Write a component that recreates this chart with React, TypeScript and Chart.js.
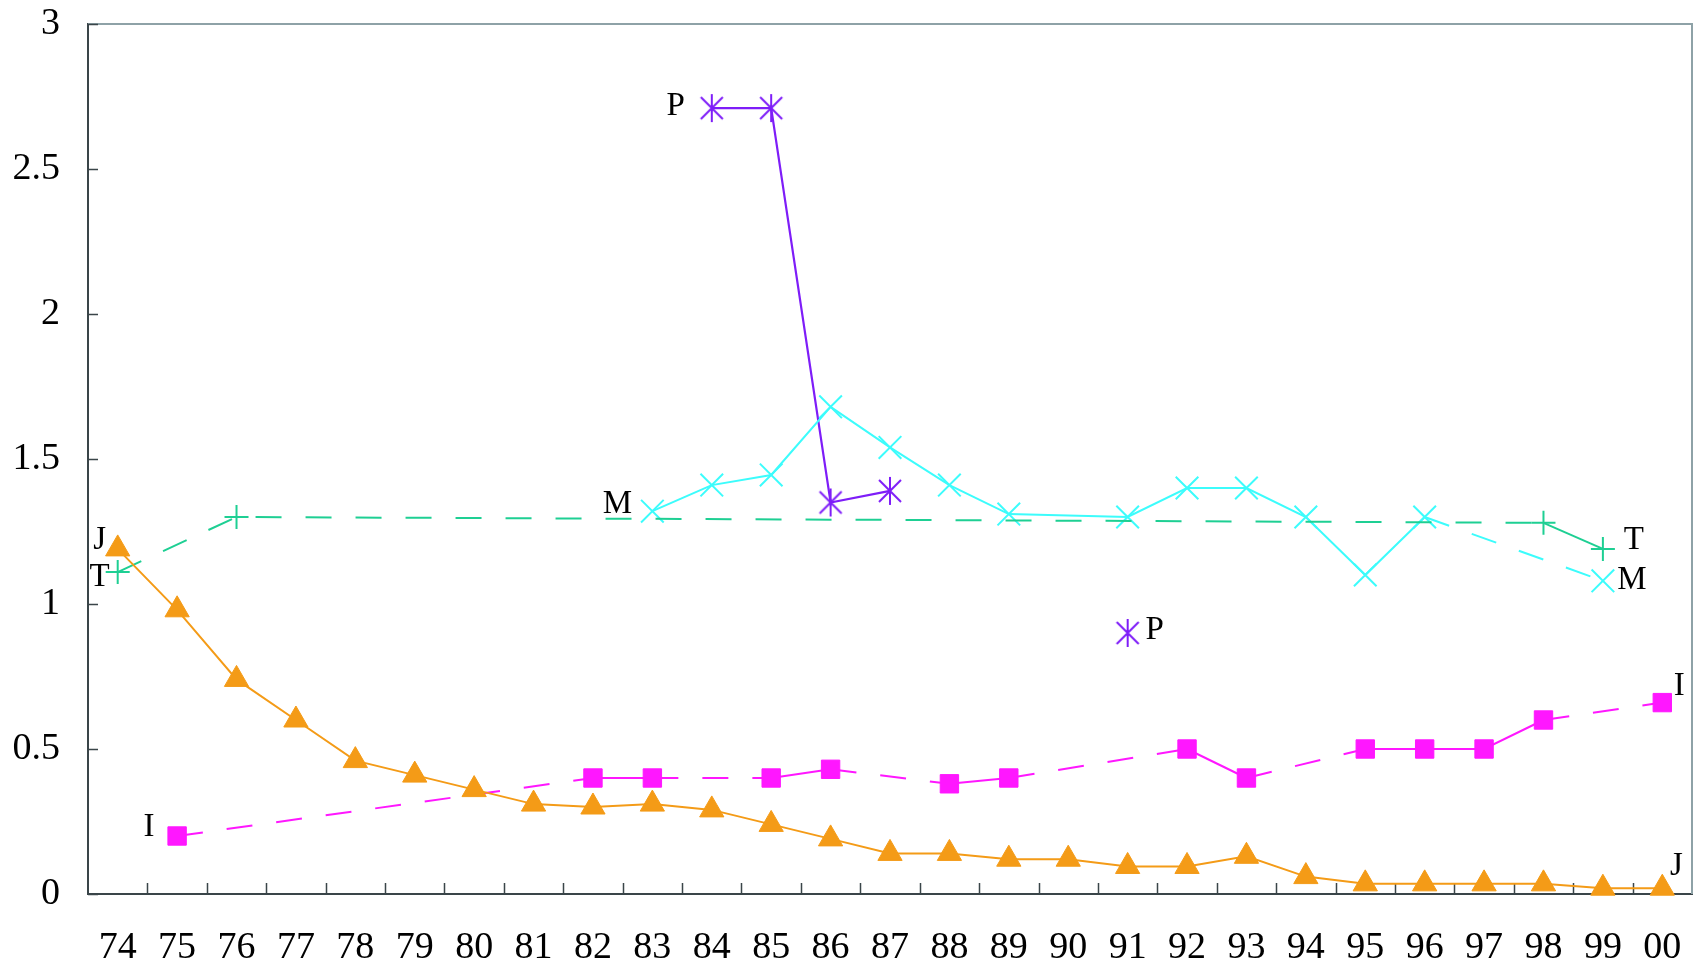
import React, { useEffect, useRef } from 'react';
import { Chart, registerables } from 'chart.js';

Chart.register(...registerables);

// ---------- data ----------
const years = ['74', '75', '76', '77', '78', '79', '80', '81', '82', '83', '84', '85', '86', '87', '88', '89', '90', '91', '92', '93', '94', '95', '96', '97', '98', '99', '00'];

const seriesJ = [1.19, 0.98, 0.74, 0.6, 0.46, 0.41, 0.36, 0.31, 0.3, 0.31, 0.29, 0.24, 0.19, 0.14, 0.14, 0.12, 0.12, 0.095, 0.095, 0.13, 0.06, 0.035, 0.035, 0.035, 0.035, 0.02, 0.02];
const seriesI = [null, 0.2, null, null, null, null, null, null, 0.4, 0.4, null, 0.4, 0.43, null, 0.38, 0.4, null, null, 0.5, 0.4, null, 0.5, 0.5, 0.5, 0.6, null, 0.66];
const seriesT = [1.11, null, 1.3, null, null, null, null, null, null, null, null, null, null, null, null, null, null, null, null, null, null, null, null, null, 1.28, 1.19, null];
const seriesM = [null, null, null, null, null, null, null, null, null, 1.32, 1.41, 1.445, 1.68, 1.54, 1.41, 1.31, null, 1.3, 1.4, 1.4, 1.3, 1.1, 1.3, null, null, 1.08, null];
const seriesP = [null, null, null, null, null, null, null, null, null, null, 2.71, 2.71, 1.35, 1.39, null, null, null, 0.9, null, null, null, null, null, null, null, null, null];

const yTicks = [0, 0.5, 1, 1.5, 2, 2.5, 3];

// gap in M between these years is drawn solid
const mSolidGap = ['89', '91'];

// ---------- styles ----------
const FONT = "'Liberation Serif', 'Times New Roman', serif";
const COL_J = '#F49B17';
const COL_I = '#FF17FF';
const COL_T = '#1ECF93';
const COL_M = '#3CFCFC';
const COL_P = '#7E1DF8';
const DASH = [26, 24];

const seriesLabels = [
  { text: 'J', ds: 0, at: 'first', dx: -18, dy: -9 },
  { text: 'J', ds: 0, at: 'last', dx: 14, dy: -22 },
  { text: 'I', ds: 1, at: 'first', dx: -28, dy: -9 },
  { text: 'I', ds: 1, at: 'last', dx: 17, dy: -16 },
  { text: 'T', ds: 2, at: 'first', dx: -18, dy: 5 },
  { text: 'T', ds: 2, at: 'last', dx: 31, dy: -9 },
  { text: 'M', ds: 3, at: 'first', dx: -35, dy: -7 },
  { text: 'M', ds: 3, at: 'last', dx: 29, dy: 0 },
  { text: 'P', ds: 4, at: 'first', dx: -36, dy: -2 },
  { text: 'P', ds: 4, at: 'last', dx: 27, dy: -3 },
];

function makeAsterisk(color: string) {
  const c = document.createElement('canvas');
  c.width = 26;
  c.height = 30;
  const g = c.getContext('2d')!;
  g.strokeStyle = color;
  g.lineWidth = 2;
  g.beginPath();
  g.moveTo(13, 1);
  g.lineTo(13, 29);
  g.moveTo(2, 4);
  g.lineTo(24, 26);
  g.moveTo(24, 4);
  g.lineTo(2, 26);
  g.stroke();
  return c;
}

const gapDash = (ctx: any) => (ctx.p0.skip || ctx.p1.skip ? DASH : undefined);

const framePlugin = {
  id: 'frame',
  beforeDatasetsDraw(chart: any) {
    const { ctx, chartArea: a, scales } = chart;
    const x = scales.x;
    const y = scales.y;
    ctx.save();
    ctx.strokeStyle = '#8EA2A7';
    ctx.lineWidth = 2;
    ctx.beginPath();
    ctx.moveTo(a.left, a.top);
    ctx.lineTo(a.right, a.top);
    ctx.lineTo(a.right, a.bottom);
    ctx.stroke();
    ctx.strokeStyle = '#3A4549';
    ctx.lineWidth = 1.5;
    ctx.beginPath();
    y.ticks.forEach((t: any) => {
      const py = Math.round(y.getPixelForValue(t.value)) + 0.5;
      ctx.moveTo(a.left, py);
      ctx.lineTo(a.left + 10, py);
    });
    for (let i = 1; i < years.length; i++) {
      const px = Math.round((x.getPixelForValue(i - 1) + x.getPixelForValue(i)) / 2) + 0.5;
      ctx.moveTo(px, a.bottom);
      ctx.lineTo(px, a.bottom - 11);
    }
    ctx.stroke();
    ctx.restore();
  },
};

const labelPlugin = {
  id: 'seriesLabels',
  afterDatasetsDraw(chart: any) {
    const { ctx } = chart;
    ctx.save();
    ctx.fillStyle = '#000';
    ctx.font = `33px ${FONT}`;
    ctx.textAlign = 'center';
    ctx.textBaseline = 'middle';
    seriesLabels.forEach((l) => {
      const meta = chart.getDatasetMeta(l.ds);
      const vals = chart.data.datasets[l.ds].data as (number | null)[];
      let idx = -1;
      if (l.at === 'first') idx = vals.findIndex((v) => v !== null);
      else {
        for (let i = vals.length - 1; i >= 0; i--) if (vals[i] !== null) { idx = i; break; }
      }
      const el = meta.data[idx];
      if (!el) return;
      ctx.fillText(l.text, el.x + l.dx, el.y + l.dy);
    });
    ctx.restore();
  },
};

export default function App() {
  const ref = useRef<HTMLCanvasElement>(null);
  useEffect(() => {
    const canvas = ref.current!;
    const mA = years.indexOf(mSolidGap[0]);
    const mB = years.indexOf(mSolidGap[1]);
    const chart = new Chart(canvas, {
      type: 'line',
      data: {
        labels: years,
        datasets: [
          {
            label: 'J',
            data: seriesJ,
            borderColor: COL_J,
            backgroundColor: COL_J,
            borderWidth: 2,
            pointStyle: 'triangle',
            pointRadius: 14,
            pointBorderWidth: 1,
            clip: false,
          },
          {
            label: 'I',
            data: seriesI,
            borderColor: COL_I,
            backgroundColor: COL_I,
            borderWidth: 2,
            pointStyle: 'rect',
            pointRadius: 13,
            pointBorderWidth: 1,
            spanGaps: true,
            segment: { borderDash: gapDash },
            clip: false,
          },
          {
            label: 'T',
            data: seriesT,
            borderColor: COL_T,
            backgroundColor: COL_T,
            borderWidth: 2,
            pointStyle: 'cross',
            pointRadius: 12,
            pointBorderWidth: 2,
            spanGaps: true,
            segment: { borderDash: gapDash },
            clip: false,
          },
          {
            label: 'M',
            data: seriesM,
            borderColor: COL_M,
            backgroundColor: COL_M,
            borderWidth: 2,
            pointStyle: 'crossRot',
            pointRadius: 16,
            pointBorderWidth: 2,
            spanGaps: true,
            segment: {
              borderDash: (ctx: any) => {
                if (ctx.p0DataIndex >= mA && ctx.p1DataIndex <= mB) return undefined;
                return gapDash(ctx);
              },
            },
            clip: false,
          },
          {
            label: 'P',
            data: seriesP,
            borderColor: COL_P,
            backgroundColor: COL_P,
            borderWidth: 2.2,
            pointStyle: makeAsterisk(COL_P) as any,
            pointRadius: 13,
            spanGaps: false,
            clip: false,
          },
        ],
      },
      options: {
        animation: false,
        responsive: false,
        maintainAspectRatio: false,
        devicePixelRatio: 1,
        layout: { autoPadding: false, padding: { top: 24, right: 3, left: 0, bottom: 0 } },
        plugins: { legend: { display: false }, tooltip: { enabled: false } },
        elements: { line: { tension: 0 } },
        scales: {
          x: {
            type: 'category',
            offset: true,
            grid: { display: false, drawTicks: false, offset: true },
            border: { display: true, color: '#3A4549', width: 2 },
            ticks: {
              autoSkip: false,
              maxRotation: 0,
              minRotation: 0,
              padding: 31,
              color: '#000',
              font: { family: FONT, size: 38 },
            },
            afterFit: (s: any) => {
              s.height = 74;
              s.paddingLeft = 0;
              s.paddingRight = 0;
            },
          },
          y: {
            type: 'linear',
            min: 0,
            max: 3,
            grid: { display: false, drawTicks: false },
            border: { display: true, color: '#3A4549', width: 2 },
            afterBuildTicks: (s: any) => {
              s.ticks = yTicks.map((v) => ({ value: v }));
            },
            ticks: {
              padding: 28,
              color: '#000',
              font: { family: FONT, size: 38 },
              callback: (v: any) => String(v),
            },
            afterFit: (s: any) => {
              s.width = 88;
              s.paddingTop = 0;
              s.paddingBottom = 0;
            },
          },
        },
      },
      plugins: [framePlugin, labelPlugin],
    });
    return () => chart.destroy();
  }, []);

  return (
    <div style={{ position: 'absolute', left: 0, top: 0, width: 1695, height: 968, background: '#fff' }}>
      <canvas ref={ref} width={1695} height={968} style={{ display: 'block', width: 1695, height: 968 }} />
    </div>
  );
}
